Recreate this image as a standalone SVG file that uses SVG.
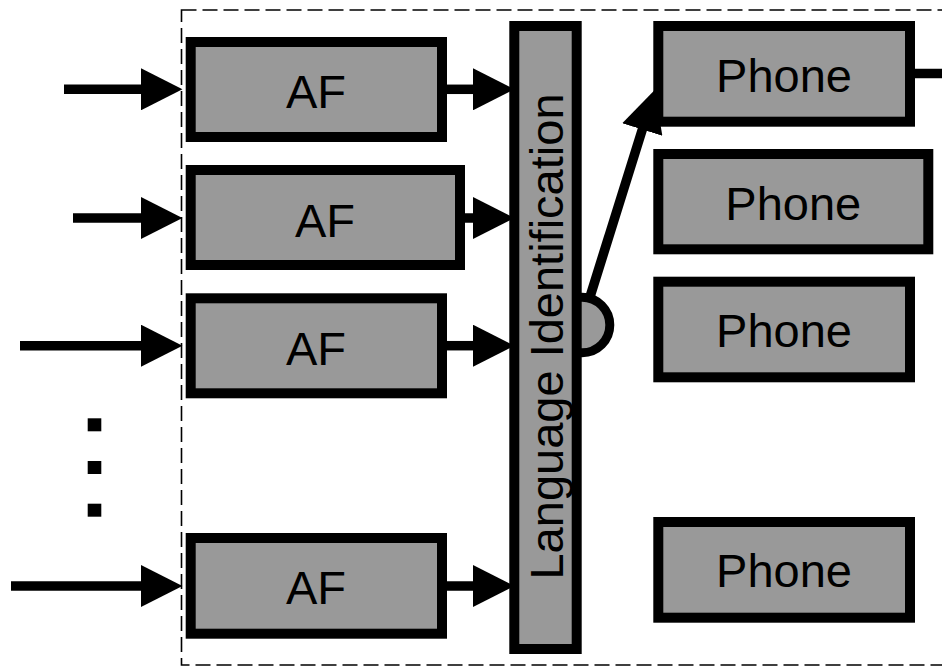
<svg xmlns="http://www.w3.org/2000/svg" width="942" height="666" viewBox="0 0 942 666">
<style>
.box{fill:#999999;stroke:#000;stroke-width:10}
.lbl{font-family:"Liberation Sans",Arial,sans-serif;font-size:47px;fill:#000;text-anchor:middle}
.wire{fill:none;stroke:#000;stroke-width:9.5}
</style>
<defs>
<marker id="ah" markerUnits="userSpaceOnUse" markerWidth="42" markerHeight="42" viewBox="0 0 41 41" refX="1" refY="20.5" orient="auto">
<path d="M0,0 L40.5,20.5 L0,41 Z" fill="#000"/>
</marker>
</defs>
<rect x="181.5" y="10" width="800" height="655" fill="none" stroke="#000" stroke-width="1.6" stroke-dasharray="15,6"/>
<g id="connectors">
<path class="wire" d="M64,89.3 H142" marker-end="url(#ah)"/>
<path class="wire" d="M73,218 H142" marker-end="url(#ah)"/>
<path class="wire" d="M20,345.7 H142" marker-end="url(#ah)"/>
<path class="wire" d="M11,586 H142" marker-end="url(#ah)"/>
<path class="wire" d="M447,89.3 H474" marker-end="url(#ah)"/>
<path class="wire" d="M465,218 H474" marker-end="url(#ah)"/>
<path class="wire" d="M447,345.7 H474" marker-end="url(#ah)"/>
<path class="wire" d="M447,586 H474" marker-end="url(#ah)"/>
<path class="wire" d="M589,300 L642.6,128.6" marker-end="url(#ah)"/>
<path class="wire" d="M915,73.5 H942"/>
</g>
<g id="dots">
<rect x="87.7" y="418.3" width="13.6" height="13"/>
<rect x="87.7" y="461" width="13.6" height="13"/>
<rect x="87.7" y="503.7" width="13.6" height="13"/>
</g>
<g id="af1"><rect class="box" x="190.7" y="42" width="251.3" height="95"/><text class="lbl" x="316" y="108">AF</text></g>
<g id="af2"><rect class="box" x="190.7" y="170" width="269.3" height="95"/><text class="lbl" x="325" y="236.5">AF</text></g>
<g id="af3"><rect class="box" x="190.7" y="298.3" width="251.3" height="95"/><text class="lbl" x="316" y="365">AF</text></g>
<g id="af4"><rect class="box" x="190.7" y="538" width="251.3" height="95.7"/><text class="lbl" x="316" y="604">AF</text></g>
<g id="lid">
<circle cx="582" cy="325" r="27.8" fill="#999999" stroke="#000" stroke-width="9"/>
<rect class="box" x="514.3" y="26" width="62.4" height="623"/>
<text class="lbl" transform="translate(563,336.5) rotate(-90)">Language Identification</text>
</g>
<g id="phone1"><rect class="box" x="658.3" y="26" width="251.7" height="95.7"/><text class="lbl" x="784" y="91.7">Phone</text></g>
<g id="phone2"><rect class="box" x="658.3" y="154" width="270" height="95.3"/><text class="lbl" x="793.3" y="220">Phone</text></g>
<g id="phone3"><rect class="box" x="658.3" y="281.7" width="251.7" height="95.6"/><text class="lbl" x="784" y="347.3">Phone</text></g>
<g id="phone4"><rect class="box" x="658.3" y="522" width="251.7" height="95.7"/><text class="lbl" x="784" y="586.7">Phone</text></g>
</svg>
